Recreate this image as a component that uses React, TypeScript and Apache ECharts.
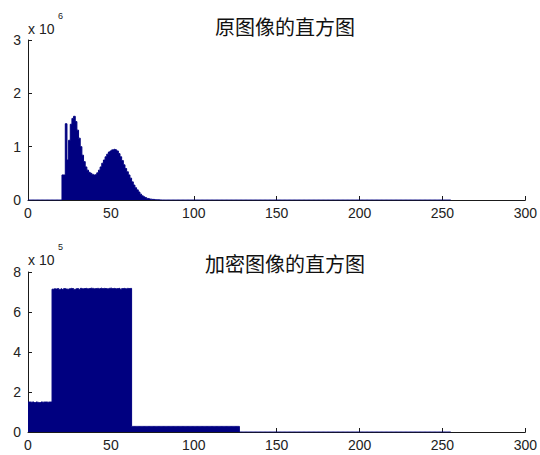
import React, { useEffect, useRef } from "react";
import * as echarts from "echarts";

// x axis ticks (grey level) and y axis ticks
const X_TICKS = [0, 50, 100, 150, 200, 250, 300];
const ORIG_Y_TICKS = [0, 1, 2, 3]; // ×10^6
const ENC_Y_TICKS = [0, 2, 4, 6, 8]; // ×10^5
const BIN_COUNT = 256;

// Original image histogram, counts ×10^6, bins 21..80 (other bins are 0)
const ORIG_FIRST_BIN = 21;
const origCounts = [
  0.47, 0.47, 1.43, 0.75, 1.12, 1.42, 1.53, 1.57, 1.47, 1.31,
  1.16, 1.0, 0.84, 0.72, 0.62, 0.56, 0.52, 0.5, 0.48, 0.47,
  0.48, 0.51, 0.56, 0.62, 0.69, 0.75, 0.81, 0.86, 0.9, 0.92,
  0.94, 0.95, 0.94, 0.92, 0.87, 0.81, 0.74, 0.66, 0.59, 0.53,
  0.47, 0.41, 0.34, 0.28, 0.23, 0.19, 0.15, 0.11, 0.08, 0.06,
  0.045, 0.03, 0.022, 0.016, 0.012, 0.01, 0.007, 0.005, 0.003, 0.002,
];

// Encrypted image histogram, counts ×10^5, bins 0..127 (other bins are 0)
const ENC_FIRST_BIN = 0;
const encCounts = [
  // bins 0..14
  1.5, 1.5, 1.49, 1.5, 1.47, 1.5, 1.48, 1.47, 1.5, 1.49, 1.5, 1.5, 1.49, 1.5, 1.5,
  // bins 15..62
  7.14, 7.16, 7.15, 7.17, 7.13, 7.16, 7.12, 7.17, 7.15, 7.14,
  7.16, 7.18, 7.17, 7.13, 7.16, 7.17, 7.12, 7.18, 7.16, 7.17,
  7.18, 7.16, 7.17, 7.19, 7.18, 7.16, 7.17, 7.18, 7.16, 7.19,
  7.17, 7.18, 7.17, 7.16, 7.18, 7.19, 7.17, 7.18, 7.16, 7.17,
  7.18, 7.13, 7.17, 7.18, 7.16, 7.18, 7.17, 7.18,
  // bins 63..127
  0.28, 0.28, 0.28, 0.28, 0.28, 0.28, 0.28, 0.28, 0.28, 0.28,
  0.28, 0.28, 0.28, 0.28, 0.28, 0.28, 0.28, 0.28, 0.28, 0.28,
  0.28, 0.28, 0.28, 0.28, 0.28, 0.28, 0.28, 0.28, 0.28, 0.28,
  0.28, 0.28, 0.28, 0.28, 0.28, 0.28, 0.28, 0.28, 0.28, 0.28,
  0.28, 0.28, 0.28, 0.28, 0.28, 0.28, 0.28, 0.28, 0.28, 0.28,
  0.28, 0.28, 0.28, 0.28, 0.28, 0.28, 0.28, 0.28, 0.28, 0.28,
  0.28, 0.28, 0.28, 0.28, 0.28,
];

const TITLE_TOP = "原图像的直方图";
const TITLE_BOTTOM = "加密图像的直方图";
const EXP_TOP = "6";
const EXP_BOTTOM = "5";

const NAVY = "#000080";
const AXIS_COLOR = "#1a1a1a";
const LABEL_FONT = "Liberation Sans";

function buildBins(first: number, counts: number[]) {
  const out: number[][] = [];
  for (let b = 0; b < BIN_COUNT; b++) {
    const v = counts[b - first];
    out.push([b, v === undefined ? 0 : v]);
  }
  return out;
}

const histSeries = (idx: number, data: number[][]) => ({
  type: "line",
  xAxisIndex: idx,
  yAxisIndex: idx,
  step: "middle",
  symbol: "none",
  showSymbol: false,
  clip: true,
  z: 3,
  lineStyle: { color: NAVY, width: 1 },
  areaStyle: { color: NAVY, opacity: 1, origin: "start" },
  data,
});

const xAxisCfg = (gridIndex: number) => ({
  type: "value",
  gridIndex,
  min: X_TICKS[0],
  max: X_TICKS[X_TICKS.length - 1],
  interval: X_TICKS[1] - X_TICKS[0],
  axisLine: { show: true, onZero: false, lineStyle: { color: AXIS_COLOR, width: 1 } },
  axisTick: { show: true, inside: true, length: 4, lineStyle: { color: AXIS_COLOR } },
  splitLine: { show: false },
  axisLabel: { fontSize: 14, fontFamily: LABEL_FONT, color: "#222", margin: 6 },
});

const yAxisCfg = (gridIndex: number, ticks: number[]) => ({
  type: "value",
  gridIndex,
  min: ticks[0],
  max: ticks[ticks.length - 1],
  interval: ticks[1] - ticks[0],
  axisLine: { show: true, lineStyle: { color: AXIS_COLOR, width: 1 } },
  axisTick: { show: true, inside: true, length: 4, lineStyle: { color: AXIS_COLOR } },
  splitLine: { show: false },
  axisLabel: { fontSize: 14, fontFamily: LABEL_FONT, color: "#222", margin: 7 },
});

export default function App() {
  const ref = useRef<HTMLDivElement>(null);
  useEffect(() => {
    if (!ref.current) return;
    const chart = echarts.init(ref.current, undefined, { renderer: "svg" });
    chart.setOption({
      animation: false,
      backgroundColor: "#ffffff",
      grid: [
        { left: 28, top: 40, width: 500, height: 160 },
        { left: 28, top: 272, width: 500, height: 160 },
      ],
      xAxis: [xAxisCfg(0), xAxisCfg(1)],
      yAxis: [yAxisCfg(0, ORIG_Y_TICKS), yAxisCfg(1, ENC_Y_TICKS)],
      series: [
        histSeries(0, buildBins(ORIG_FIRST_BIN, origCounts)),
        histSeries(1, buildBins(ENC_FIRST_BIN, encCounts)),
      ],
      graphic: [
        {
          type: "text", x: 285, y: 26,
          style: { text: TITLE_TOP, fontSize: 20, fontFamily: "Noto Sans CJK SC", fill: "#111", align: "center", verticalAlign: "middle" },
        },
        {
          type: "text", x: 285, y: 263,
          style: { text: TITLE_BOTTOM, fontSize: 20, fontFamily: "Noto Sans CJK SC", fill: "#111", align: "center", verticalAlign: "middle" },
        },
        {
          type: "text", x: 28, y: 29,
          style: { text: "x 10", fontSize: 14, fontFamily: LABEL_FONT, fill: "#222", align: "left", verticalAlign: "middle" },
        },
        {
          type: "text", x: 58, y: 16,
          style: { text: EXP_TOP, fontSize: 9, fontFamily: LABEL_FONT, fill: "#222", align: "left", verticalAlign: "middle" },
        },
        {
          type: "text", x: 28, y: 260,
          style: { text: "x 10", fontSize: 14, fontFamily: LABEL_FONT, fill: "#222", align: "left", verticalAlign: "middle" },
        },
        {
          type: "text", x: 58, y: 247,
          style: { text: EXP_BOTTOM, fontSize: 9, fontFamily: LABEL_FONT, fill: "#222", align: "left", verticalAlign: "middle" },
        },
      ],
    });
    return () => chart.dispose();
  }, []);
  return (
    <div
      ref={ref}
      style={{ position: "absolute", left: 0, top: 0, width: 540, height: 455, background: "#fff" }}
    />
  );
}
